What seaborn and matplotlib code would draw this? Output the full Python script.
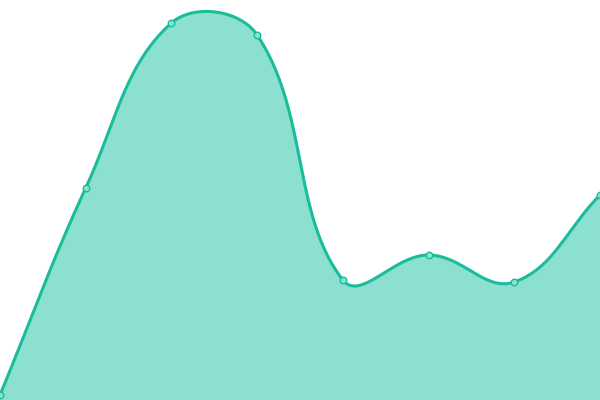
import numpy as np
import seaborn as sns
import matplotlib.pyplot as plt

# data (y in chart units, 0..400)
labels = ["A", "B", "C", "D", "E", "F", "G", "H"]
values = [5, 212, 377, 365, 120, 145, 118, 205]

line_col = "#1abc9c"
fill_col = "#8ce0cf"
tension = 0.4


def spline(xs, ys, steps=40):
    # chart.js style bezier smoothing between the data points
    n = len(xs)
    pts = np.column_stack([xs, ys]).astype(float)
    cp_prev = pts.copy()
    cp_next = pts.copy()
    for i in range(n):
        p = pts[max(i - 1, 0)]
        c = pts[i]
        nx = pts[min(i + 1, n - 1)]
        d01 = np.hypot(*(c - p))
        d12 = np.hypot(*(nx - c))
        s = d01 + d12
        fa = tension * d01 / s if s else 0
        fb = tension * d12 / s if s else 0
        cp_prev[i] = c - fa * (nx - p)
        cp_next[i] = c + fb * (nx - p)
    out = []
    t = np.linspace(0, 1, steps)[:, None]
    for i in range(n - 1):
        p0, p1, p2, p3 = pts[i], cp_next[i], cp_prev[i + 1], pts[i + 1]
        seg = ((1 - t) ** 3) * p0 + 3 * ((1 - t) ** 2) * t * p1 + 3 * (1 - t) * t ** 2 * p2 + t ** 3 * p3
        out.append(seg if i == 0 else seg[1:])
    out = np.vstack(out)
    return out[:, 0], out[:, 1]


sns.set_style("white")
fig = plt.figure(figsize=(6, 4), dpi=100)
ax = fig.add_axes([0, 0, 1, 1])

xs = np.arange(len(values)) * 600 / (len(values) - 1)
cx, cy = spline(xs, values)

ax.fill_between(cx, 0, cy, color=fill_col, linewidth=0)
sns.lineplot(x=cx, y=cy, sort=False, color=line_col, linewidth=2.2, ax=ax)
sns.scatterplot(x=xs, y=values, s=22, color=fill_col, edgecolor=line_col, linewidth=1, ax=ax, zorder=5)

ax.set_xlim(0, 600)
ax.set_ylim(0, 400)
ax.axis("off")

fig.savefig("out.png", dpi=100)
